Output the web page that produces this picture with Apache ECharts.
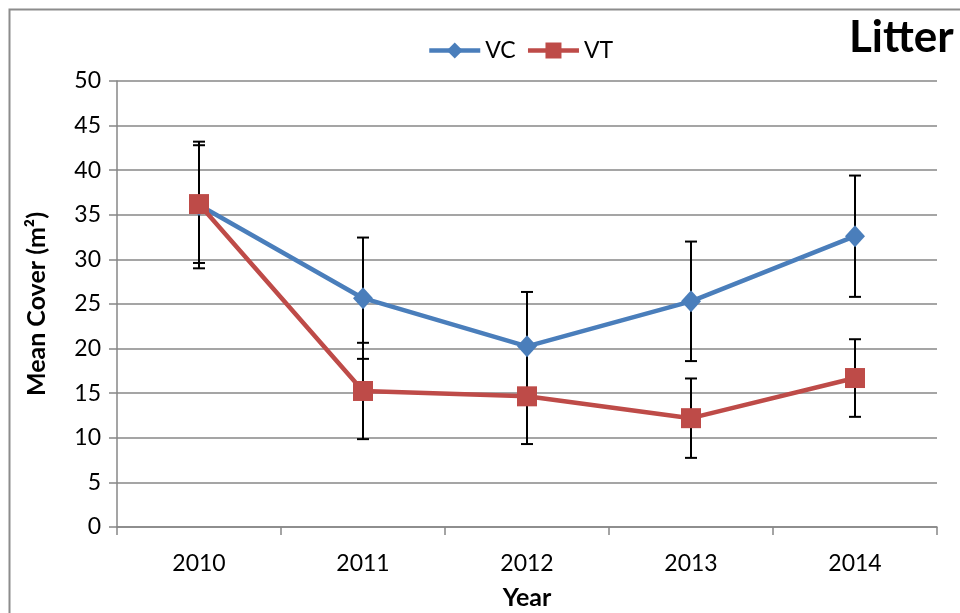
<!DOCTYPE html>
<html>
<head>
<meta charset="utf-8">
<script src="https://cdn.jsdelivr.net/npm/echarts@6/dist/echarts.min.js"></script>
<style>html,body{margin:0;padding:0;background:#fff;overflow:hidden}#c{width:960px;height:613px}</style>
</head>
<body>
<div id="c"></div>
<script>
const years = ['2010', '2011', '2012', '2013', '2014'];
const vcMean = [36.1, 25.65, 20.25, 25.3, 32.6];
const vcErr = [7.1, 6.8, 6.1, 6.7, 6.8];
const vtMean = [36.2, 15.25, 14.65, 12.2, 16.7];
const vtErr = [6.6, 5.4, 5.35, 4.45, 4.35];

const FONT = 'Lato, "Open Sans", sans-serif';

function errData(mean, err) {
  return mean.map((m, i) => [i, m - err[i], m + err[i]]);
}
function errRender(params, api) {
  const x = api.value(0);
  const lo = api.coord([x, api.value(1)]);
  const hi = api.coord([x, api.value(2)]);
  const w = 6;
  const st = { stroke: '#000', lineWidth: 2 };
  return {
    type: 'group',
    children: [
      { type: 'line', shape: { x1: lo[0], y1: lo[1], x2: hi[0], y2: hi[1] }, style: st },
      { type: 'line', shape: { x1: lo[0] - w, y1: lo[1], x2: lo[0] + w, y2: lo[1] }, style: st },
      { type: 'line', shape: { x1: hi[0] - w, y1: hi[1], x2: hi[0] + w, y2: hi[1] }, style: st }
    ]
  };
}

const chart = echarts.init(document.getElementById('c'), null, { renderer: 'canvas' });
chart.setOption({
  animation: false,
  backgroundColor: '#fff',
  textStyle: { fontFamily: FONT },
  graphic: [
    { type: 'rect', left: 7, top: 7, shape: { width: 1000, height: 1000 }, style: { fill: 'none', stroke: '#8c8c8c', lineWidth: 2 }, z: -1 },
    { type: 'text', left: 849, top: 16, style: { text: 'Litter', font: 'bold 44px ' + FONT, fill: '#000' } }
  ],
  legend: {
    top: 39,
    left: 427,
    padding: 0,
    itemWidth: 51,
    itemHeight: 20,
    itemGap: 10,
    lineStyle: { width: 4.5 },
    textStyle: { fontSize: 23, color: '#000', fontFamily: FONT },
    data: ['VC', 'VT']
  },
  grid: { left: 117, right: 23, top: 81, bottom: 86, containLabel: false, outerBoundsMode: 'none' },
  xAxis: {
    type: 'category',
    data: years,
    boundaryGap: true,
    name: 'Year',
    nameLocation: 'middle',
    nameGap: 58,
    nameTextStyle: { fontSize: 25, fontWeight: 'bold', color: '#000', fontFamily: FONT },
    axisLine: { lineStyle: { color: '#878787', width: 1.5 } },
    axisTick: { show: true, length: 8, alignWithLabel: false, lineStyle: { color: '#878787', width: 1.5 } },
    axisLabel: { fontSize: 23, color: '#000', margin: 25, fontFamily: FONT },
    splitLine: { show: false }
  },
  yAxis: {
    type: 'value',
    min: 0,
    max: 50,
    interval: 5,
    name: 'Mean Cover (m²)',
    nameLocation: 'middle',
    nameGap: 68,
    nameRotate: 90,
    nameTextStyle: { fontSize: 25, fontWeight: 'bold', color: '#000', fontFamily: FONT },
    axisLine: { show: true, lineStyle: { color: '#878787', width: 1.5 } },
    axisTick: { show: true, length: 8, lineStyle: { color: '#878787', width: 1.5 } },
    axisLabel: { fontSize: 23, color: '#000', margin: 16, fontFamily: FONT },
    splitLine: { show: true, lineStyle: { color: '#878787', width: 1.5 } }
  },
  series: [
    {
      name: 'VC', type: 'line', data: vcMean, z: 3,
      color: '#4a7ebb',
      lineStyle: { width: 4.5, color: '#4a7ebb' },
      symbol: 'diamond', symbolSize: [20, 22],
      itemStyle: { color: '#4a7ebb' }
    },
    {
      name: 'VT', type: 'line', data: vtMean, z: 4,
      color: '#be4b48',
      lineStyle: { width: 4.5, color: '#be4b48' },
      symbol: 'rect', symbolSize: 20,
      itemStyle: { color: '#be4b48' }
    },
    { type: 'custom', name: 'VC err', data: errData(vcMean, vcErr), renderItem: errRender, z: 2, encode: { x: 0, y: [1, 2] }, silent: true },
    { type: 'custom', name: 'VT err', data: errData(vtMean, vtErr), renderItem: errRender, z: 2, encode: { x: 0, y: [1, 2] }, silent: true }
  ]
});
</script>
</body>
</html>
